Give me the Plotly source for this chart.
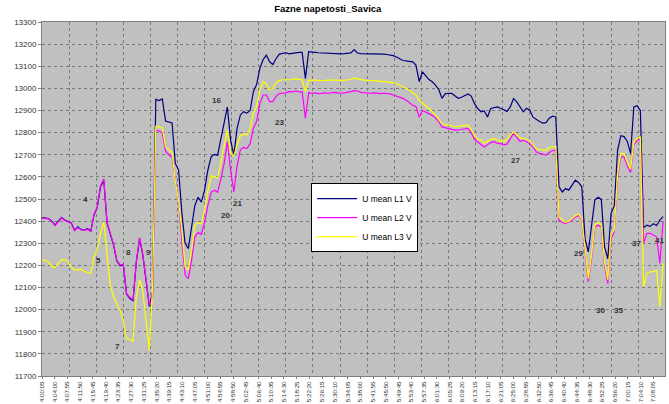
import pandas as pd
import plotly.graph_objects as go

# ---------------- data ----------------
start_time = "2024-01-01 04:00:05"
minutes = list(range(192))  # one reading per minute from 4:00:05

u_l1 = [
    12416,12414,12412,12400,12382,12400,12416,12405,12398,12392,
    12359,12374,12362,12360,12366,12355,12428,12462,12556,12585,
    12392,12342,12292,12221,12198,12203,12070,12050,12040,12216,
    12320,12246,12126,12015,12080,12950,12945,12952,12852,12848,
    12844,12660,12632,12440,12300,12276,12374,12470,12508,12486,
    12540,12630,12690,12702,12698,12766,12848,12916,12765,12698,
    12820,12880,12895,12888,12900,12985,13018,13090,13130,13150,
    13120,13108,13135,13155,13158,13161,13156,13159,13160,13163,
    13163,13044,13166,13166,13163,13161,13160,13158,13158,13157,
    13158,13157,13156,13157,13158,13160,13175,13160,13157,13157,
    13156,13155,13156,13157,13156,13155,13153,13151,13148,13142,
    13132,13126,13124,13122,13120,13105,13030,13075,13055,13040,
    13030,13015,12995,12955,12975,12978,12977,12965,12955,12960,
    12969,12975,12965,12931,12909,12894,12898,12871,12909,12912,
    12916,12910,12902,12896,12916,12954,12939,12916,12894,12910,
    12901,12870,12858,12850,12843,12845,12865,12874,12871,12555,
    12532,12547,12540,12565,12585,12575,12555,12320,12261,12380,
    12495,12508,12498,12284,12230,12435,12470,12720,12786,12782,
    12760,12705,12916,12922,12900,12370,12382,12376,12388,12380,
    12405,12420,
]

u_l2 = [
    12414,12411,12410,12398,12380,12397,12414,12403,12396,12389,
    12357,12371,12360,12358,12363,12353,12430,12465,12560,12590,
    12395,12345,12295,12224,12201,12206,12073,12055,12045,12215,
    12325,12250,12130,12020,12060,12811,12808,12798,12715,12700,
    12690,12580,12490,12314,12156,12140,12224,12329,12348,12340,
    12395,12470,12530,12540,12530,12590,12660,12759,12630,12532,
    12650,12722,12733,12728,12750,12820,12850,12931,12970,12970,
    12940,12940,12965,12977,12977,12980,12985,12984,12988,12984,
    12984,12865,12980,12978,12980,12976,12977,12980,12978,12980,
    12982,12980,12978,12980,12982,12985,12990,12988,12982,12980,
    12980,12978,12980,12978,12976,12978,12977,12975,12970,12965,
    12961,12955,12946,12935,12924,12918,12870,12900,12892,12886,
    12878,12866,12850,12826,12822,12819,12815,12811,12812,12815,
    12818,12819,12800,12770,12758,12745,12735,12745,12755,12759,
    12751,12750,12745,12748,12775,12796,12780,12760,12766,12758,
    12751,12735,12713,12706,12703,12698,12710,12718,12721,12404,
    12395,12389,12397,12404,12419,12427,12404,12270,12126,12230,
    12374,12382,12374,12200,12118,12320,12351,12600,12690,12690,
    12650,12620,12745,12765,12770,12300,12345,12345,12337,12329,
    12209,12400,
]

u_l3 = [
    12227,12222,12215,12195,12190,12209,12225,12225,12216,12193,
    12180,12180,12183,12172,12168,12164,12240,12270,12344,12397,
    12250,12110,12060,12025,12000,11950,11870,11866,11856,12060,
    12135,12085,11950,11817,12100,12829,12826,12820,12735,12722,
    12710,12580,12490,12359,12193,12180,12269,12382,12392,12388,
    12450,12535,12605,12600,12595,12665,12736,12811,12705,12695,
    12745,12786,12792,12790,12820,12890,12918,12992,13030,13020,
    12994,13000,13025,13036,13038,13040,13038,13042,13044,13040,
    13040,12984,13037,13036,13038,13035,13034,13036,13037,13038,
    13036,13037,13035,13036,13038,13040,13046,13042,13038,13037,
    13036,13037,13035,13034,13033,13032,13030,13029,13026,13022,
    13015,13007,13000,12992,12980,12970,12946,12931,12920,12909,
    12895,12880,12860,12841,12838,12834,12830,12826,12828,12830,
    12832,12834,12815,12785,12770,12766,12752,12760,12770,12773,
    12766,12765,12759,12770,12790,12803,12790,12776,12773,12770,
    12760,12745,12728,12723,12721,12720,12732,12736,12736,12419,
    12405,12395,12400,12410,12425,12432,12410,12275,12140,12245,
    12385,12392,12385,12215,12135,12345,12360,12615,12705,12705,
    12665,12635,12755,12775,12780,12103,12164,12171,12172,12178,
    12013,12209,
]

tick_labels = [
    "4:00:05","4:04:00","4:07:55","4:11:50","4:15:45","4:19:40","4:23:35",
    "4:27:30","4:31:25","4:35:20","4:39:15","4:43:10","4:47:05","4:51:00",
    "4:54:55","4:58:50","5:02:45","5:06:40","5:10:35","5:14:30","5:18:25",
    "5:22:20","5:26:15","5:30:10","5:34:05","5:38:00","5:41:55","5:45:50",
    "5:49:45","5:53:40","5:57:35","6:01:30","6:05:25","6:09:20","6:13:15",
    "6:17:10","6:21:05","6:25:00","6:28:55","6:32:50","6:36:45","6:40:40",
    "6:44:35","6:48:30","6:52:25","6:56:20","7:00:15","7:04:10","7:08:05",
]

note_text = ["4","5","7","8","9","16","20","21","23","27","29","30","35","37","41"]
note_min = [13.4,17.3,23.3,26.6,32.7,53.7,56.3,60.2,73.0,145.7,164.9,171.6,177.4,182.9,190.0]
note_val = [12499,12224,11835,12258,12258,12946,12427,12480,12848,12672,12254,11998,11998,12299,12314]

series_names = ["U mean L1 V", "U mean L2 V", "U mean L3 V"]
series_colors = ["#000080", "#FF00FF", "#FFFF00"]

# ---------------- figure ----------------
t0 = pd.Timestamp(start_time)
times = [t0 + pd.Timedelta(minutes=m) for m in minutes]
tick_vals = [pd.Timestamp("2024-01-01 " + s) for s in tick_labels]
x_end = t0 + pd.Timedelta(seconds=11495)

fig = go.Figure()
for name, vals, col in zip(series_names, [u_l1, u_l2, u_l3], series_colors):
    fig.add_trace(go.Scatter(x=times, y=vals, mode="lines", name=name,
                             line=dict(color=col, width=1.2)))

for txt, m, v in zip(note_text, note_min, note_val):
    fig.add_annotation(x=t0 + pd.Timedelta(minutes=m), y=v, text="<b>%s</b>" % txt,
                       showarrow=False, xref="x", yref="y",
                       font=dict(family="Liberation Sans, Arial", size=8, color="#333333"))

fig.update_layout(
    width=669, height=404,
    margin=dict(l=42, r=4, t=22, b=28, autoexpand=False),
    paper_bgcolor="white",
    plot_bgcolor="#C0C0C0",
    font=dict(family="Liberation Sans, Arial", color="#000000"),
    title=dict(text="<b>Fazne napetosti_Savica</b>", x=0.49, xanchor="center",
               y=0.978, yref="container", yanchor="middle",
               font=dict(size=9.5, color="#000000")),
    showlegend=True,
    legend=dict(x=0.432, y=0.545, xanchor="left", yanchor="top",
                bgcolor="white", bordercolor="black", borderwidth=1,
                font=dict(size=8.5), tracegroupgap=0, itemwidth=40),
)

fig.update_xaxes(
    type="date",
    range=[t0, x_end],
    tickmode="array", tickvals=tick_vals, ticktext=tick_labels,
    tickangle=-90, tickfont=dict(size=6.2, color="#333333"),
    ticks="outside", ticklen=2, tickcolor="#808080",
    ticklabelstandoff=0,
    showgrid=False,
    minor=dict(tickmode="linear", tick0=start_time, dtick=500000,
               showgrid=True, gridcolor="#7a7a7a", griddash="dot", gridwidth=1),
    showline=True, linecolor="#808080", linewidth=1, mirror=True,
    zeroline=False,
)
fig.update_yaxes(
    range=[11700, 13300], tickmode="linear", tick0=11700, dtick=100,
    tickformat="d",
    tickfont=dict(size=8, color="#333333"),
    ticks="outside", ticklen=3, tickcolor="#808080",
    showgrid=True, gridcolor="#7a7a7a", griddash="dot", gridwidth=1,
    showline=True, linecolor="#808080", linewidth=1, mirror=True,
    zeroline=False,
)

fig.write_html("out.html", config={"displayModeBar": False},
               post_script="document.body.style.margin='0px';document.body.style.overflow='hidden';")
